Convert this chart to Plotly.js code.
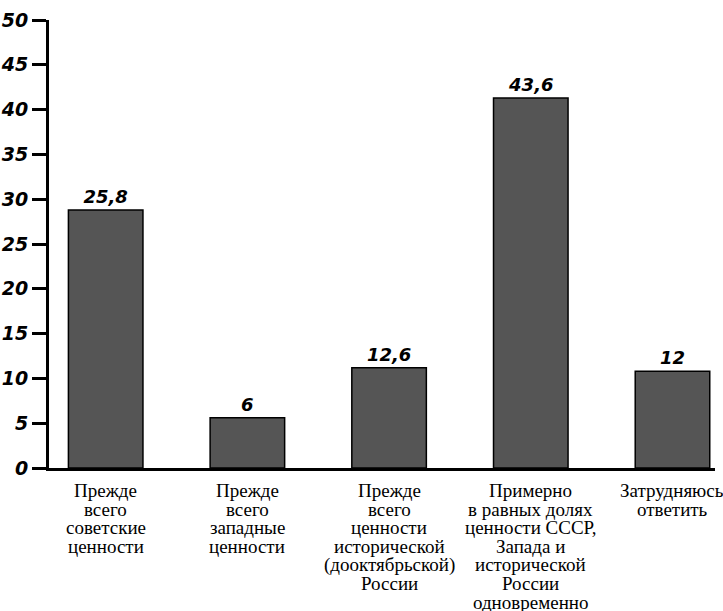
<!DOCTYPE html>
<html>
<head>
<meta charset="utf-8">
<script src="https://cdn.plot.ly/plotly-3.0.1.min.js"></script>
<style>
html,body{margin:0;padding:0;background:#fff;}
#chart{width:723px;height:611px;}
</style>
</head>
<body>
<div id="chart"></div>
<script>
// Category labels (lines separated by \n)
const categories = [
  "Прежде\nвсего\nсоветские\nценности",
  "Прежде\nвсего\nзападные\nценности",
  "Прежде\nвсего\nценности\nисторической\n(дооктябрьской)\nРоссии",
  "Примерно\nв равных долях\nценности СССР,\nЗапада и\nисторической\nРоссии\nодновременно",
  "Затрудняюсь\nответить"
];
// Bar heights as drawn in the picture
const barHeights = [28.8, 5.6, 11.2, 41.3, 10.8];
// Value labels printed above the bars
const valueLabels = ["25,8", "6", "12,6", "43,6", "12"];
// Y axis ticks
const yTicks = [0, 5, 10, 15, 20, 25, 30, 35, 40, 45, 50];

const trace = {
  type: "bar",
  x: categories,
  y: barHeights,
  text: valueLabels,
  textposition: "outside",
  texttemplate: "%{text}",
  constraintext: "none",
  cliponaxis: false,
  textfont: {family: "DejaVu Sans, sans-serif", size: 18, style: "italic", weight: "bold", color: "#000"},
  marker: {color: "#555555", line: {color: "#000", width: 1.5}},
  hoverinfo: "none"
};

const lineH = 18.6;
const annotations = [];
categories.forEach(function (cat) {
  cat.split("\n").forEach(function (ln, i) {
    annotations.push({
      x: cat, xref: "x", y: 0, yref: "paper",
      xanchor: "center", yanchor: "top",
      yshift: -11 - i * lineH,
      text: ln, showarrow: false, borderpad: 0,
      font: {family: "Liberation Serif, DejaVu Serif, serif", size: 19, color: "#000"}
    });
  });
});

const layout = {
  width: 723, height: 611,
  margin: {l: 49, r: 8, t: 20, b: 143},
  paper_bgcolor: "#fff", plot_bgcolor: "#fff",
  showlegend: false,
  bargap: 0.474,
  xaxis: {
    type: "category",
    range: [-0.40, 4.30],
    showline: true, linecolor: "#000", linewidth: 3,
    showticklabels: false, ticks: "", showgrid: false, zeroline: false
  },
  yaxis: {
    range: [0, 50],
    tickvals: yTicks,
    ticktext: yTicks.map(String),
    showline: true, linecolor: "#000", linewidth: 3,
    ticks: "outside", ticklen: 14, tickwidth: 3, tickcolor: "#000",
    tickfont: {family: "DejaVu Sans, sans-serif", size: 19, style: "italic", weight: "bold", color: "#000"},
    showgrid: false, zeroline: false
  },
  annotations: annotations
};

Plotly.newPlot("chart", [trace], layout, {staticPlot: true, displayModeBar: false});
</script>
</body>
</html>
